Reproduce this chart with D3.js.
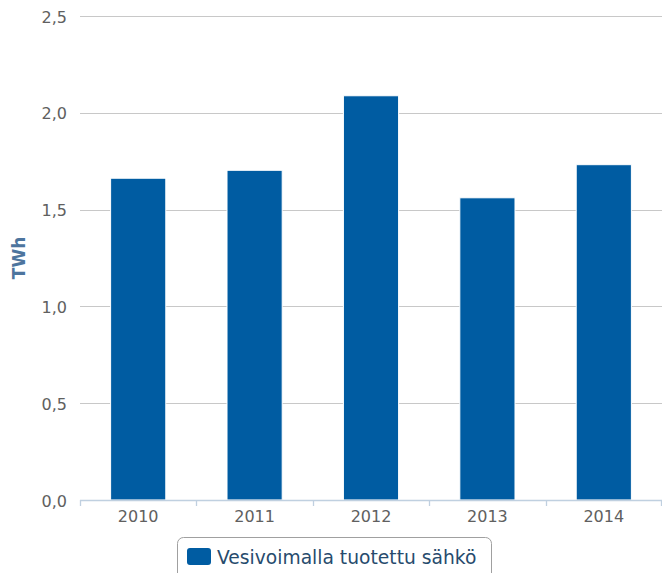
<!DOCTYPE html>
<html><head><meta charset="utf-8">
<script src="https://cdn.jsdelivr.net/npm/d3@7"></script>
<style>body{margin:0;background:#fff}svg{display:block}</style>
</head><body>
<script>
const categories = ["2010","2011","2012","2013","2014"];
const values = [1.662, 1.703, 2.088, 1.561, 1.732];
const yTicks = [0, 0.5, 1.0, 1.5, 2.0, 2.5];
const seriesName = "Vesivoimalla tuotettu sähkö";
const yTitle = "TWh";

const W = 662, H = 573;
const svg = d3.select("body").append("svg").attr("width", W).attr("height", H);
const font = "DejaVu Sans, Verdana, sans-serif";
const pLeft = 80, pRight = 662, pTop = 16, pBottom = 500;

const x = d3.scaleBand().domain(categories).range([pLeft, pRight]).paddingInner(0.526).paddingOuter(0.263);
const xb = d3.scaleBand().domain(categories).range([pLeft, pRight]);
const y = d3.scaleLinear().domain([0, 2.5]).range([pBottom, pTop]);
const fmt = v => d3.format(".1f")(v).replace(".", ",");

// gridlines
svg.append("g").selectAll("line").data(yTicks.filter(t => t > 0)).join("line")
  .attr("x1", pLeft).attr("x2", pRight)
  .attr("y1", d => Math.round(y(d)) + 0.5).attr("y2", d => Math.round(y(d)) + 0.5)
  .attr("stroke", "#c8c8c8").attr("stroke-width", 1.2);

// y labels
svg.append("g").selectAll("text").data(yTicks).join("text")
  .attr("x", 67).attr("y", d => y(d) + 6.5)
  .attr("text-anchor", "end").attr("font-family", font).attr("font-size", 16)
  .attr("fill", "#606060").text(fmt);

// bars
svg.append("g").selectAll("rect").data(values).join("rect")
  .attr("x", (d, i) => x(categories[i])).attr("width", x.bandwidth())
  .attr("y", d => y(d)).attr("height", d => y(0) - y(d))
  .attr("fill", "#005ca2").attr("stroke", "#ffffff").attr("stroke-width", 1);

// x axis
svg.append("line").attr("x1", pLeft).attr("x2", pRight).attr("y1", pBottom + 0.5).attr("y2", pBottom + 0.5)
  .attr("stroke", "#c0d0e0").attr("stroke-width", 1.3);
const tickXs = categories.map(c => xb(c)).concat([pRight - 1]);
svg.append("g").selectAll("line").data(tickXs).join("line")
  .attr("x1", d => Math.round(d) + 0.5).attr("x2", d => Math.round(d) + 0.5)
  .attr("y1", pBottom).attr("y2", pBottom + 6)
  .attr("stroke", "#c0d0e0").attr("stroke-width", 1.3);
svg.append("g").selectAll("text").data(categories).join("text")
  .attr("x", d => xb(d) + xb.bandwidth() / 2).attr("y", 522)
  .attr("text-anchor", "middle").attr("font-family", font).attr("font-size", 16)
  .attr("fill", "#606060").text(d => d);

// y title
svg.append("text").attr("transform", "translate(25,258) rotate(-90)")
  .attr("text-anchor", "middle").attr("font-family", font).attr("font-size", 17)
  .attr("font-weight", "bold").attr("fill", "#4d759e").text(yTitle);

// legend
const lg = svg.append("g");
lg.append("rect").attr("x", 177.5).attr("y", 537.5).attr("width", 314).attr("height", 44)
  .attr("rx", 6).attr("fill", "#fff").attr("stroke", "#a0a0a0").attr("stroke-width", 1);
lg.append("rect").attr("x", 187).attr("y", 548).attr("width", 24).attr("height", 17)
  .attr("rx", 3).attr("fill", "#005ca2");
lg.append("text").attr("x", 217).attr("y", 564).attr("font-family", font).attr("font-size", 18.7)
  .attr("fill", "#274b6d").text(seriesName);
</script>
</body></html>
